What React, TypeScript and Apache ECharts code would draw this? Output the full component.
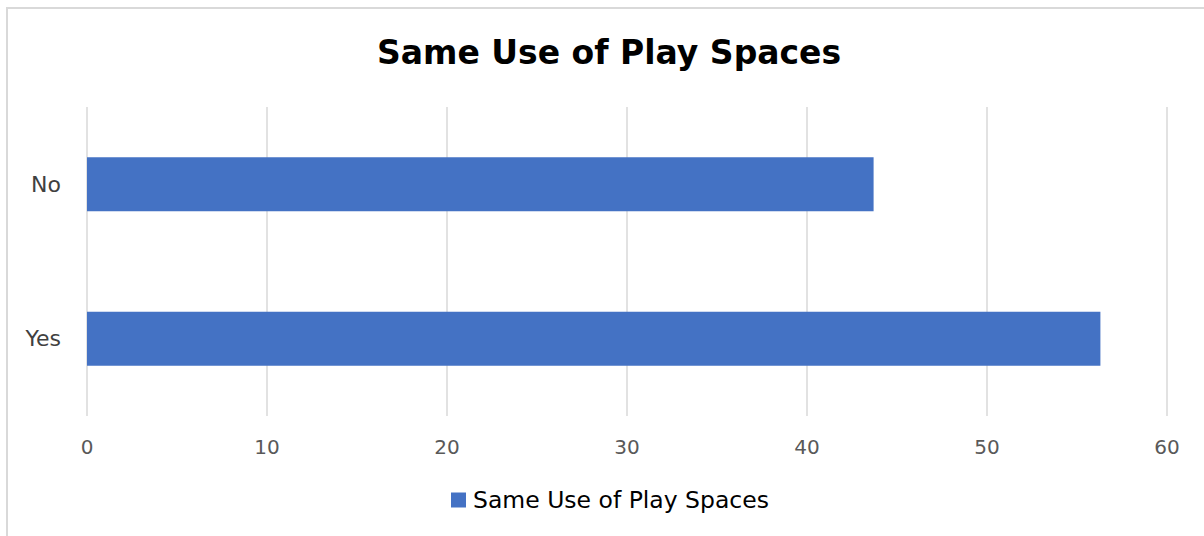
import React, { useEffect, useRef } from "react";
import * as echarts from "echarts";

const categories = ["Yes", "No"];
const values = [56.3, 43.7];
const seriesName = "Same Use of Play Spaces";
const titleText = "Same Use of Play Spaces";
const xMin = 0;
const xMax = 60;
const xInterval = 10;

const FONT = "DejaVu Sans";

export default function App() {
  const ref = useRef<HTMLDivElement>(null);
  useEffect(() => {
    if (!ref.current) return;
    const chart = echarts.init(ref.current, null, { renderer: "svg" });
    chart.setOption({
      animation: false,
      backgroundColor: "#ffffff",
      title: {
        text: titleText,
        left: 372,
        top: 31,
        textStyle: { fontFamily: FONT, fontSize: 33, fontWeight: "bold", color: "#000000" },
      },
      legend: {
        data: [seriesName],
        bottom: 19,
        left: 446,
        icon: "rect",
        itemWidth: 15,
        itemHeight: 15,
        itemGap: 6,
        textStyle: { fontFamily: FONT, fontSize: 23.5, color: "#000000", padding: [0, 0, 0, 2] },
      },
      grid: { left: 87, right: 37, top: 107, bottom: 120, containLabel: false },
      xAxis: {
        type: "value",
        min: xMin,
        max: xMax,
        interval: xInterval,
        axisLine: { show: false },
        axisTick: { show: false },
        axisLabel: { fontFamily: FONT, fontSize: 20, color: "#595959", margin: 21 },
        splitLine: { show: true, lineStyle: { color: "#d9d9d9", width: 1.5 } },
      },
      yAxis: {
        type: "category",
        data: categories,
        axisLine: { show: false },
        axisTick: { show: false },
        axisLabel: { fontFamily: FONT, fontSize: 22, color: "#404040", margin: 26 },
        splitLine: { show: false },
      },
      series: [
        {
          name: seriesName,
          type: "bar",
          data: values,
          barCategoryGap: "65%",
          itemStyle: { color: "#4472C4" },
        },
      ],
      graphic: [
        {
          type: "rect",
          shape: { x: 7, y: 8, width: 1300, height: 700 },
          style: { fill: "none", stroke: "#d9d9d9", lineWidth: 2 },
          silent: true,
        },
      ],
    });
    return () => chart.dispose();
  }, []);
  return (
    <div
      ref={ref}
      style={{ position: "absolute", left: 0, top: 0, width: 1204, height: 536 }}
    />
  );
}
